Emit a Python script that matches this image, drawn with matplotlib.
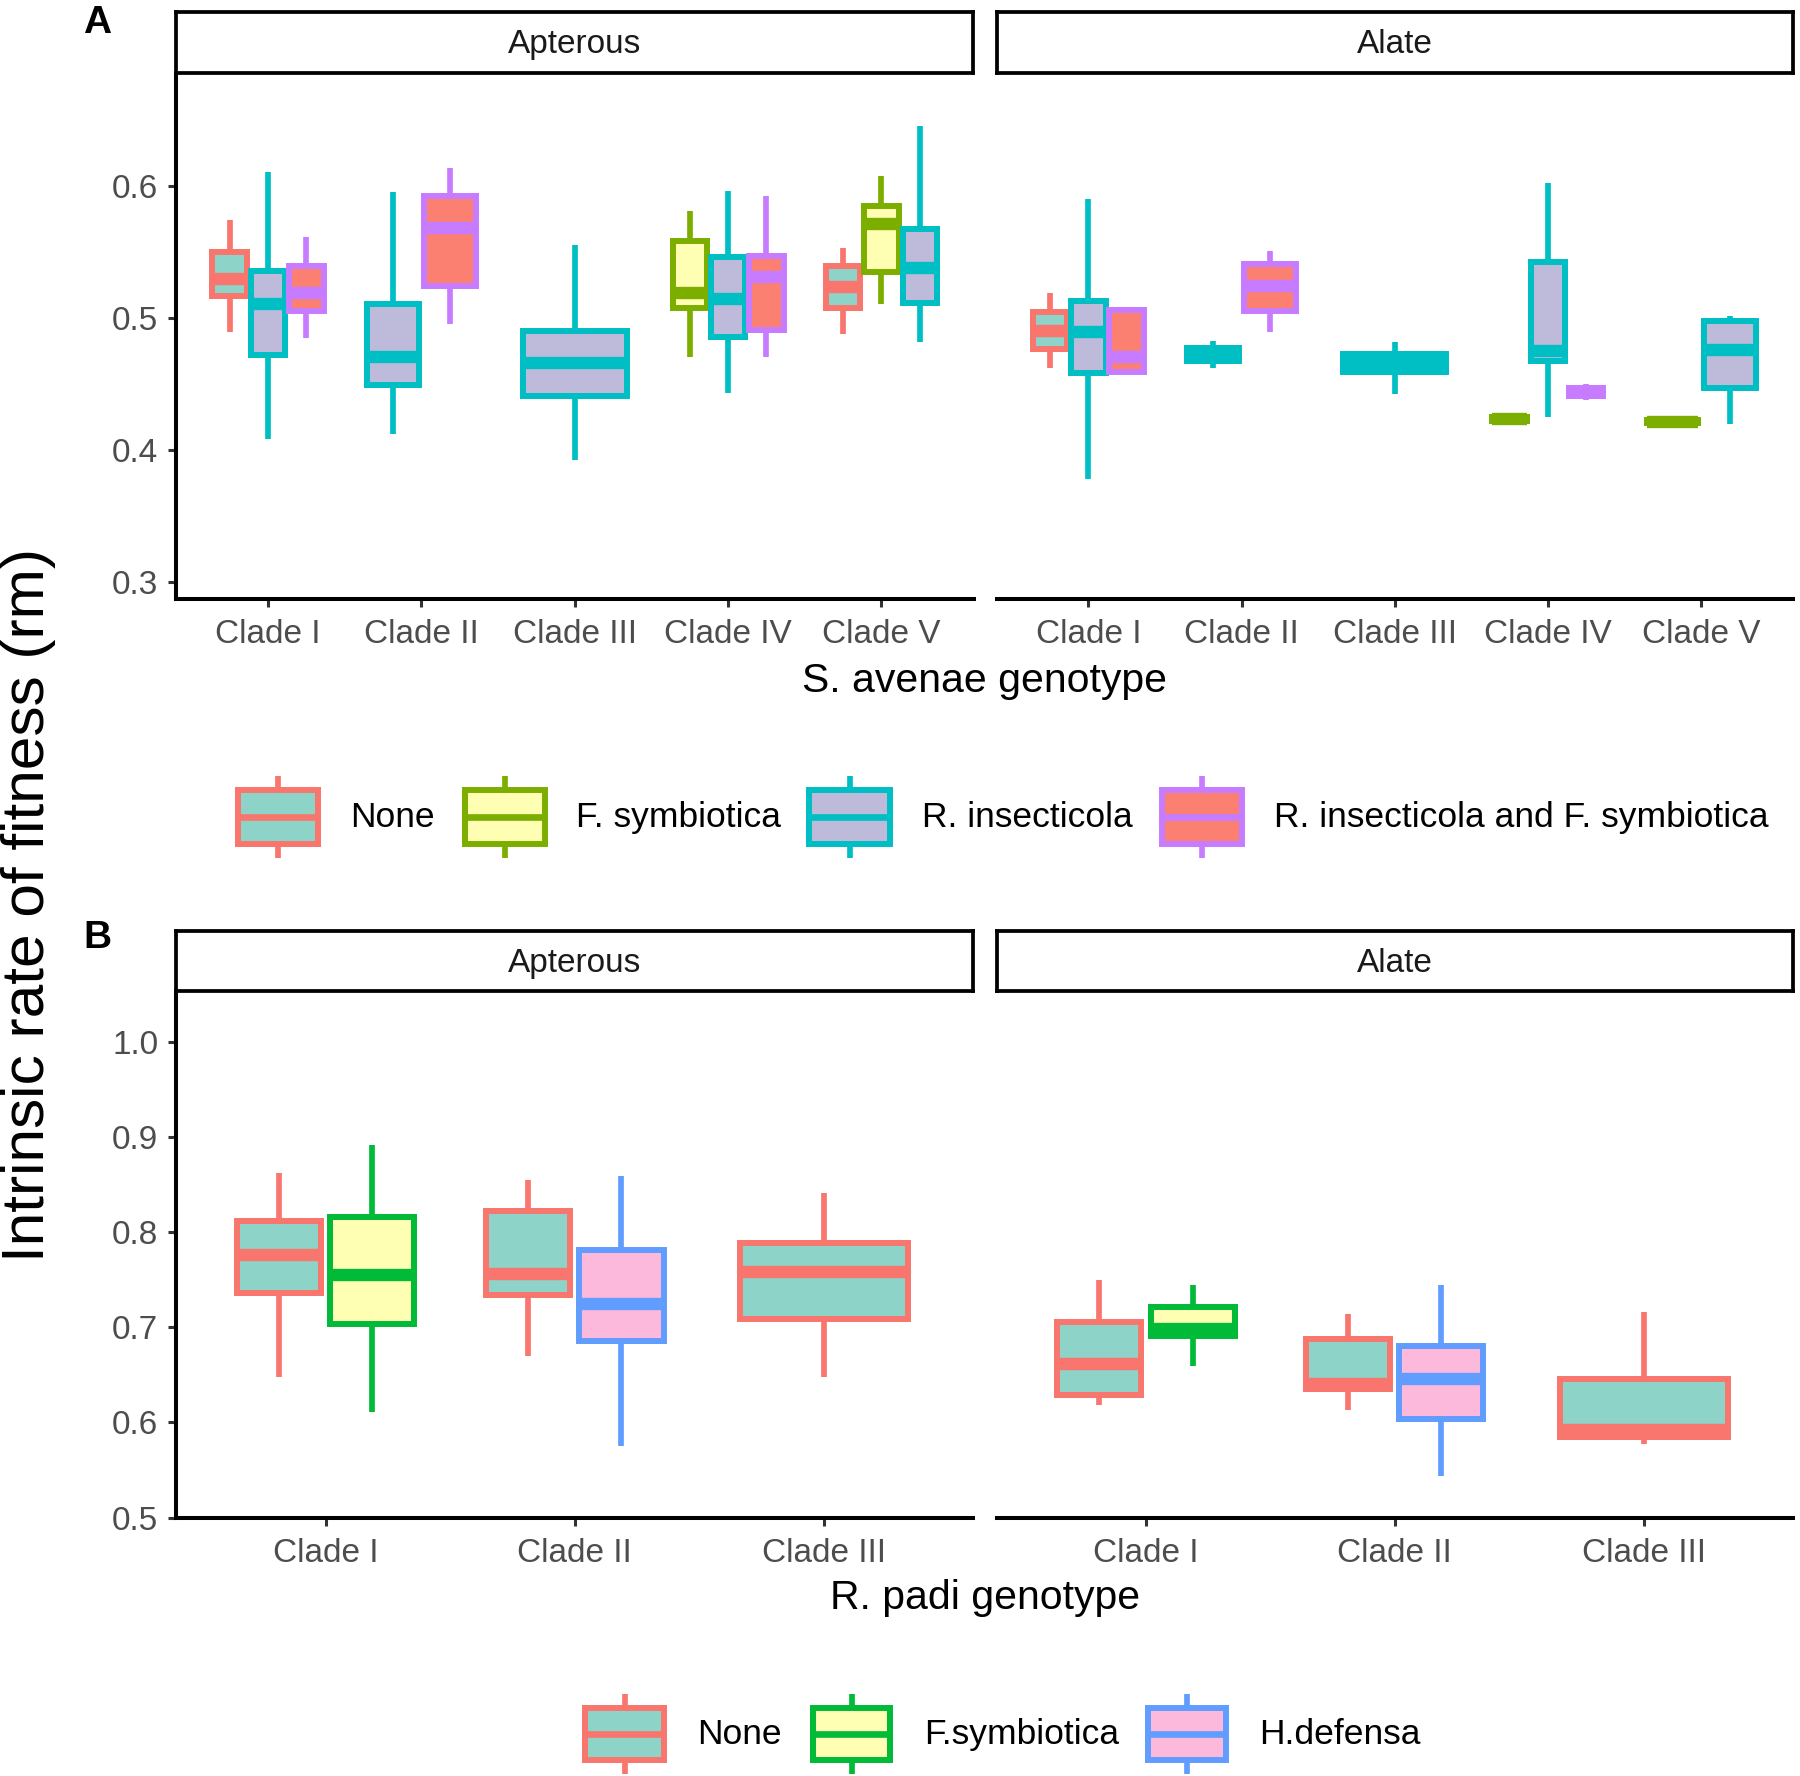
import matplotlib
matplotlib.use('Agg')
import matplotlib.pyplot as plt
from matplotlib.patches import Rectangle

plt.rcParams['font.family'] = ['Liberation Sans', 'DejaVu Sans']

W, H = 1800, 1776
DPI = 100

#######################################################################
# data
clades_a = ['Clade I', 'Clade II', 'Clade III', 'Clade IV', 'Clade V']
clades_b = ['Clade I', 'Clade II', 'Clade III']
groups_a = ['None', 'F. symbiotica', 'R. insecticola', 'R. insecticola and F. symbiotica']
groups_b = ['None', 'F.symbiotica', 'H.defensa']
edge_a = ['#F8766D', '#7CAE00', '#00BFC4', '#C77CFF']
fill_a = ['#8DD3C7', '#FFFFB3', '#BEBADA', '#FB8072']
edge_b = ['#F8766D', '#00BA38', '#619CFF']
fill_b = ['#8DD3C7', '#FFFFB3', '#FDB9DB']

# panel A, apterous
a_apt_clade = [0, 0, 0, 1, 1, 2, 3, 3, 3, 4, 4, 4]
a_apt_group = [0, 2, 3, 2, 3, 2, 1, 2, 3, 0, 1, 2]
a_apt_lo = [0.489, 0.408, 0.485, 0.412, 0.4955, 0.392, 0.470, 0.443, 0.470, 0.4874, 0.5106, 0.4815]
a_apt_q1 = [0.5165, 0.472, 0.505, 0.449, 0.524, 0.441, 0.5076, 0.4855, 0.491, 0.5071, 0.5345, 0.511]
a_apt_med = [0.529, 0.510, 0.519, 0.470, 0.568, 0.466, 0.519, 0.514, 0.531, 0.5233, 0.5713, 0.538]
a_apt_q3 = [0.550, 0.535, 0.5395, 0.510, 0.592, 0.490, 0.558, 0.546, 0.547, 0.5392, 0.5846, 0.567]
a_apt_hi = [0.574, 0.610, 0.561, 0.5955, 0.613, 0.555, 0.581, 0.596, 0.592, 0.5524, 0.6076, 0.645]

# panel A, alate
a_ala_clade = [0, 0, 0, 1, 1, 2, 3, 3, 3, 4, 4]
a_ala_group = [0, 2, 3, 2, 3, 2, 1, 2, 3, 1, 2]
a_ala_lo = [0.462, 0.378, 0.459, 0.462, 0.489, 0.442, 0.4215, 0.425, 0.4375, 0.420, 0.4195]
a_ala_q1 = [0.4762, 0.458, 0.459, 0.467, 0.5053, 0.4588, 0.4215, 0.467, 0.441, 0.420, 0.4466]
a_ala_med = [0.490, 0.489, 0.470, 0.471, 0.5237, 0.466, 0.423, 0.4744, 0.444, 0.4213, 0.4757]
a_ala_q3 = [0.504, 0.513, 0.506, 0.477, 0.5405, 0.4724, 0.4245, 0.542, 0.447, 0.4228, 0.4977]
a_ala_hi = [0.5185, 0.590, 0.506, 0.482, 0.5507, 0.4815, 0.4245, 0.6017, 0.450, 0.4228, 0.501]

# panel B, apterous
b_apt_clade = [0, 0, 1, 1, 2]
b_apt_group = [0, 1, 0, 2, 0]
b_apt_lo = [0.6473, 0.6112, 0.6693, 0.5747, 0.6473]
b_apt_q1 = [0.7364, 0.7035, 0.7342, 0.6857, 0.7081]
b_apt_med = [0.7753, 0.755, 0.7559, 0.7242, 0.7578]
b_apt_q3 = [0.8116, 0.8154, 0.8221, 0.7811, 0.7883]
b_apt_hi = [0.8617, 0.8914, 0.8543, 0.8588, 0.8406]

# panel B, alate
b_ala_clade = [0, 0, 1, 1, 2]
b_ala_group = [0, 1, 0, 2, 0]
b_ala_lo = [0.6182, 0.6594, 0.6130, 0.5434, 0.5774]
b_ala_q1 = [0.6282, 0.6904, 0.6348, 0.6037, 0.5850]
b_ala_med = [0.6618, 0.6983, 0.6399, 0.6455, 0.5917]
b_ala_q3 = [0.7054, 0.7207, 0.6875, 0.6798, 0.6456]
b_ala_hi = [0.7496, 0.7447, 0.7138, 0.7447, 0.7163]

#######################################################################
fig = plt.figure(figsize=(W / DPI, H / DPI), dpi=DPI)


def px_axes(x0, y0, x1, y1):
    return fig.add_axes([x0 / W, 1 - y1 / H, (x1 - x0) / W, (y1 - y0) / H])


def draw_boxes(ax, clade, group, lo, q1, med, q3, hi, edges, fills):
    # dodge like ggplot: total width 0.75 shared by the boxes of a clade
    for i in range(len(clade)):
        members = sorted(g for c, g in zip(clade, group) if c == clade[i])
        n = len(members)
        k = members.index(group[i])
        slot = 0.75 / n
        pos = clade[i] + 1 + (k - (n - 1) / 2.0) * slot
        st = [dict(med=med[i], q1=q1[i], q3=q3[i], whislo=lo[i], whishi=hi[i], fliers=[])]
        col = edges[group[i]]
        ax.bxp(st, positions=[pos], widths=[slot * 0.9], patch_artist=True,
               showcaps=False, showfliers=False, manage_ticks=False,
               boxprops=dict(facecolor=fills[group[i]], edgecolor=col, linewidth=4.3),
               medianprops=dict(color=col, linewidth=8.9, solid_capstyle='butt'),
               whiskerprops=dict(color=col, linewidth=4.1, solid_capstyle='butt'))


def setup(ax, labels, ylim, yticks, show_y):
    ax.set_xlim(0.4, len(labels) + 0.6)
    ax.set_ylim(*ylim)
    for s in ['top', 'right']:
        ax.spines[s].set_visible(False)
    for s in ['left', 'bottom']:
        ax.spines[s].set_linewidth(2.9)
        ax.spines[s].set_color('black')
    ax.set_xticks(range(1, len(labels) + 1))
    ax.set_xticklabels(labels)
    ax.tick_params(length=5.8, width=2.2, color='#333333', labelsize=24,
                   labelcolor='#4D4D4D')
    ax.tick_params(axis='x', pad=8.5)
    ax.tick_params(axis='y', pad=7)
    if show_y:
        ax.set_yticks(yticks)
        ax.set_yticklabels(['%.1f' % v for v in yticks])
    else:
        ax.spines['left'].set_visible(False)
        ax.set_yticks([])
    ax.patch.set_alpha(0)


def strip(x0, y0, x1, y1, label):
    s = px_axes(x0, y0, x1, y1)
    s.set_xticks([])
    s.set_yticks([])
    for sp in s.spines.values():
        sp.set_linewidth(2.7)
        sp.set_color('black')
    s.text(0.5, 0.46, label, ha='center', va='center', fontsize=24, color='#1A1A1A',
           transform=s.transAxes)


left_apt, right_apt = 176, 973.5
left_ala, right_ala = 996.5, 1793

# panel A
ylim_a = (0.287, 0.683)
yt_a = [0.3, 0.4, 0.5, 0.6]
ax1 = px_axes(left_apt, 76, right_apt, 599)
ax2 = px_axes(left_ala, 76, right_ala, 599)
draw_boxes(ax1, a_apt_clade, a_apt_group, a_apt_lo, a_apt_q1, a_apt_med, a_apt_q3, a_apt_hi, edge_a, fill_a)
draw_boxes(ax2, a_ala_clade, a_ala_group, a_ala_lo, a_ala_q1, a_ala_med, a_ala_q3, a_ala_hi, edge_a, fill_a)
setup(ax1, clades_a, ylim_a, yt_a, True)
setup(ax2, clades_a, ylim_a, yt_a, False)
strip(left_apt, 12, right_apt, 73, 'Apterous')
strip(left_ala, 12, right_ala, 73, 'Alate')

# panel B
ylim_b = (0.4995, 1.05)
yt_b = [0.5, 0.6, 0.7, 0.8, 0.9, 1.0]
ax3 = px_axes(left_apt, 994, right_apt, 1518)
ax4 = px_axes(left_ala, 994, right_ala, 1518)
draw_boxes(ax3, b_apt_clade, b_apt_group, b_apt_lo, b_apt_q1, b_apt_med, b_apt_q3, b_apt_hi, edge_b, fill_b)
draw_boxes(ax4, b_ala_clade, b_ala_group, b_ala_lo, b_ala_q1, b_ala_med, b_ala_q3, b_ala_hi, edge_b, fill_b)
setup(ax3, clades_b, ylim_b, yt_b, True)
setup(ax4, clades_b, ylim_b, yt_b, False)
strip(left_apt, 931, right_apt, 991, 'Apterous')
strip(left_ala, 931, right_ala, 991, 'Alate')

#######################################################################
# overlay in pixel coordinates for titles and legends
ov = fig.add_axes([0, 0, 1, 1])
ov.set_xlim(0, W)
ov.set_ylim(H, 0)
ov.axis('off')

ov.text(97, 23, 'A', fontsize=28, fontweight='bold', ha='center', va='center')
ov.text(97, 938, 'B', fontsize=28, fontweight='bold', ha='center', va='center')
ov.text(29, 905, 'Intrinsic rate of fitness (rm)', fontsize=43.5, rotation=90,
        ha='center', va='center')
ov.text(985, 681, 'S. avenae genotype', fontsize=29.5, ha='center', va='center')
ov.text(985, 1598, 'R. padi genotype', fontsize=29.5, ha='center', va='center')


def legend_key(x0, x1, yc, h, wh, edge, fill):
    xm = (x0 + x1) / 2.0
    ov.plot([xm, xm], [yc - wh, yc - h / 2], color=edge, lw=4.1, solid_capstyle='butt')
    ov.plot([xm, xm], [yc + h / 2, yc + wh], color=edge, lw=4.1, solid_capstyle='butt')
    ov.add_patch(Rectangle((x0, yc - h / 2), x1 - x0, h, facecolor=fill, edgecolor=edge, lw=4.3))
    ov.plot([x0, x1], [yc, yc], color=edge, lw=4.8, solid_capstyle='butt')


keys_a = [(238, 318), (465, 545), (809, 890), (1162, 1242)]
text_a = [350, 576, 922, 1274]
for i in range(len(groups_a)):
    legend_key(keys_a[i][0], keys_a[i][1], 817, 54, 41, edge_a[i], fill_a[i])
    ov.text(text_a[i], 817, groups_a[i], fontsize=25.5, ha='left', va='center')

keys_b = [(585, 664), (813, 890), (1148, 1226)]
text_b = [697, 924, 1259]
for i in range(len(groups_b)):
    legend_key(keys_b[i][0], keys_b[i][1], 1734, 52, 40, edge_b[i], fill_b[i])
    ov.text(text_b[i], 1734, groups_b[i], fontsize=25.5, ha='left', va='center')

fig.savefig('out.png', dpi=DPI)
